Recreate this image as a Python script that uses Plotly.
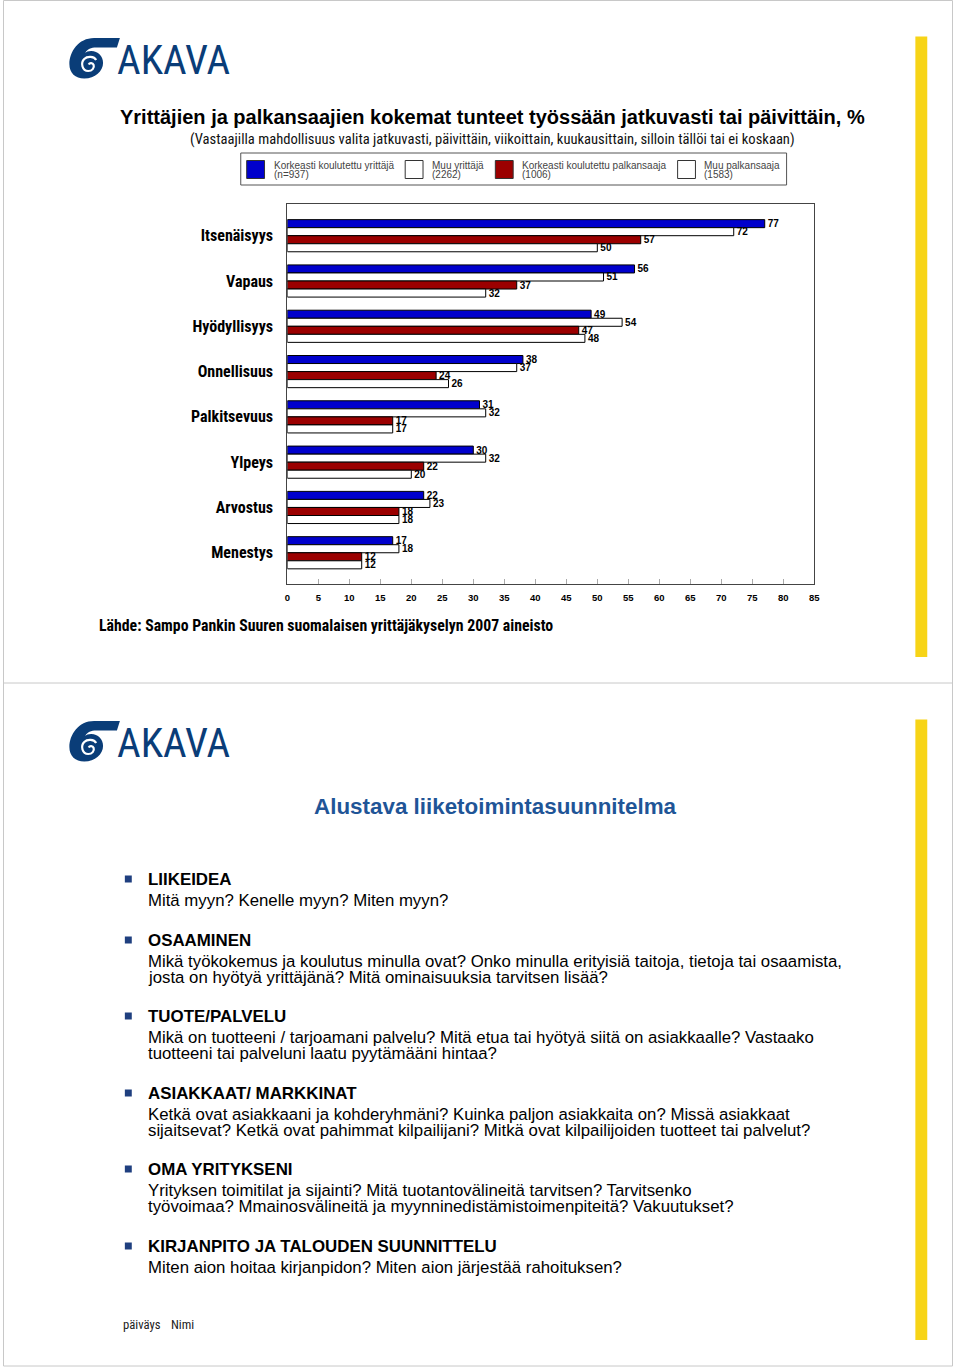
import plotly.graph_objects as go

W, H = 960, 1367

# ---------------- data ----------------
categories = ["Itsenäisyys", "Vapaus", "Hyödyllisyys", "Onnellisuus",
              "Palkitsevuus", "Ylpeys", "Arvostus", "Menestys"]
series_names = ["Korkeasti koulutettu yrittäjä", "Muu yrittäjä",
                "Korkeasti koulutettu palkansaaja", "Muu palkansaaja"]
series_n = ["(n=937)", "(2262)", "(1006)", "(1583)"]
kk_yrittaja = [77, 56, 49, 38, 31, 30, 22, 17]
muu_yrittaja = [72, 51, 54, 37, 32, 32, 23, 18]
kk_palkansaaja = [57, 37, 47, 24, 17, 22, 18, 12]
muu_palkansaaja = [50, 32, 48, 26, 17, 20, 18, 12]
series_values = [kk_yrittaja, muu_yrittaja, kk_palkansaaja, muu_palkansaaja]
series_colors = ["#0000CC", "#FFFFFF", "#9B0000", "#FFFFFF"]
x_ticks = list(range(0, 90, 5))

title1 = "Yrittäjien ja palkansaajien kokemat tunteet työssään jatkuvasti tai päivittäin, %"
subtitle1 = "(Vastaajilla mahdollisuus valita jatkuvasti, päivittäin, viikoittain, kuukausittain, silloin tällöi tai ei koskaan)"
source1 = "Lähde: Sampo Pankin Suuren suomalaisen yrittäjäkyselyn 2007 aineisto"

title2 = "Alustava liiketoimintasuunnitelma"
bullet_heads = ["LIIKEIDEA", "OSAAMINEN", "TUOTE/PALVELU", "ASIAKKAAT/ MARKKINAT",
                "OMA YRITYKSENI", "KIRJANPITO JA TALOUDEN SUUNNITTELU"]
bullet_bodies = [
    ["Mitä myyn? Kenelle myyn? Miten myyn?"],
    ["Mikä työkokemus ja koulutus minulla ovat? Onko minulla erityisiä taitoja, tietoja tai osaamista,",
     "josta on hyötyä yrittäjänä? Mitä ominaisuuksia tarvitsen lisää?"],
    ["Mikä on tuotteeni / tarjoamani palvelu? Mitä etua tai hyötyä siitä on asiakkaalle? Vastaako",
     "tuotteeni tai palveluni laatu pyytämääni hintaa?"],
    ["Ketkä ovat asiakkaani ja kohderyhmäni? Kuinka paljon asiakkaita on? Missä asiakkaat",
     "sijaitsevat? Ketkä ovat pahimmat kilpailijani? Mitkä ovat kilpailijoiden tuotteet tai palvelut?"],
    ["Yrityksen toimitilat ja sijainti? Mitä tuotantovälineitä tarvitsen? Tarvitsenko",
     "työvoimaa? Mmainosvälineitä ja myynninedistämistoimenpiteitä? Vakuutukset?"],
    ["Miten aion hoitaa kirjanpidon? Miten aion järjestää rahoituksen?"],
]
footer_items = ["päiväys", "Nimi"]

# ---------------- helpers ----------------
def X(px):
    return px / W

def Y(py):
    return 1 - py / H

NARROW = "Liberation Sans Narrow, Arial Narrow, Roboto Condensed, DejaVu Sans Condensed, sans-serif"
SANS = "Liberation Sans, Arial, sans-serif"
AKAVA_BLUE = "#0A3D78"
YELLOW = "#F7D417"

shapes = []
annotations = []

def rect(x0, y0, x1, y1, fill, line=None, lw=1):
    shapes.append(dict(type="rect", xref="paper", yref="paper",
                       x0=X(x0), x1=X(x1), y0=Y(y1), y1=Y(y0),
                       fillcolor=fill, line=dict(color=line or fill, width=lw if line else 0),
                       layer="above"))

def path(cmds, fill=None, line=None, lw=0):
    s = ""
    for c, pts in cmds:
        s += c + " " + " ".join(f"{X(a):.5f},{Y(b):.5f}" for a, b in pts) + " "
    if fill:
        s += "Z"
    shapes.append(dict(type="path", xref="paper", yref="paper", path=s.strip(),
                       fillcolor=fill if fill else "rgba(0,0,0,0)",
                       line=dict(color=line or "rgba(0,0,0,0)", width=lw),
                       layer="above"))

def text(x, y, t, size, color="#000", family=SANS, xanchor="left", bold=False):
    annotations.append(dict(xref="paper", yref="paper", x=X(x), y=Y(y), text=t,
                            showarrow=False, xanchor=xanchor, yanchor="middle",
                            xshift=-2 if xanchor == "left" else 0,
                            font=dict(size=size, color=color, family=family,
                                      weight="bold" if bold else "normal")))

def header(dy):
    # dark blue bar with slanted left end
    path([("M", [(118, 36.5 + dy)]), ("L", [(125, 23 + dy), (933, 23 + dy), (933, 36.5 + dy)])],
         fill=AKAVA_BLUE)
    # yellow vertical bar
    rect(921, 36.5 + dy, 933, 657 + dy, YELLOW)
    # logo swirl
    path([("M", [(118, 38 + dy)]), ("L", [(92, 38 + dy)]),
          ("C", [(76, 38 + dy), (67, 52 + dy), (67, 64 + dy)]),
          ("C", [(67, 73 + dy), (73, 78.5 + dy), (82, 78.5 + dy)]),
          ("C", [(93, 78.5 + dy), (101, 71 + dy), (101, 63 + dy)]),
          ("C", [(101, 56 + dy), (96, 51 + dy), (89, 51 + dy)]),
          ("C", [(86, 51 + dy), (84, 52 + dy), (83, 53 + dy)]),
          ("C", [(85, 49 + dy), (89, 47.5 + dy), (94, 47.5 + dy)]),
          ("L", [(115, 47.5 + dy)])], fill=AKAVA_BLUE)
    path([("M", [(94, 60 + dy)]),
          ("C", [(92, 56 + dy), (85, 56 + dy), (82, 59 + dy)]),
          ("C", [(78, 63 + dy), (80, 71 + dy), (86, 71 + dy)]),
          ("C", [(90, 71 + dy), (92.5, 68 + dy), (91.5, 65 + dy)]),
          ("C", [(90.5, 62.5 + dy), (87.5, 62.5 + dy), (86.5, 64.5 + dy)])],
         line="#FFFFFF", lw=2.2)
    text(115, 60 + dy, "AKAVA", 41, AKAVA_BLUE, NARROW)

# ---------------- slide frames ----------------
shapes.append(dict(type="rect", xref="paper", yref="paper", x0=X(0.5), x1=X(958.5),
                   y0=Y(1366), y1=Y(0.5), line=dict(color="#C8C8C8", width=1),
                   fillcolor="rgba(0,0,0,0)", layer="below"))
shapes.append(dict(type="line", xref="paper", yref="paper", x0=X(0), x1=X(959),
                   y0=Y(683), y1=Y(683), line=dict(color="#C8C8C8", width=1)))
header(0)
header(683)

# ---------------- slide 1 texts ----------------
text(494, 117, title1, 20, "#000", SANS, "center", bold=True)
text(494, 139, subtitle1, 14.6, "#111", NARROW, "center")
text(97, 625, source1, 15.8, "#000", NARROW, bold=True)

# legend
rect(240, 153, 791, 185, "#FFFFFF", "#555555", 1)
sw_x = [246, 406, 497, 681]
tx_x = [274, 433, 524, 708]
for i in range(4):
    rect(sw_x[i], 160.5, sw_x[i] + 18, 178.5, series_colors[i], "#333333", 1)
    text(tx_x[i], 165, series_names[i], 10, "#444", SANS)
    text(tx_x[i], 175, series_n[i], 10, "#444", SANS)

# ---------------- bar chart ----------------
fig = go.Figure()
for name, vals, col in zip(series_names, series_values, series_colors):
    fig.add_trace(go.Bar(
        y=categories, x=vals, name=name, orientation="h",
        marker=dict(color=col, line=dict(color="#000000", width=1)),
        text=[str(v) for v in vals], textposition="outside",
        textfont=dict(size=10, color="#000", family=SANS, weight="bold"),
        constraintext="none", cliponaxis=False, showlegend=False,
    ))

# ---------------- slide 2 ----------------
text(497, 806, title2, 22.4, "#1F5597", SANS, "center", bold=True)
head_y = [879, 940, 1016, 1093, 1169, 1246]
for hy, hd, body in zip(head_y, bullet_heads, bullet_bodies):
    rect(123, hy - 3.5, 130, hy + 3.5, "#1F3F7F")
    text(146, hy, hd, 16.9, "#000", SANS, bold=True)
    for j, line in enumerate(body):
        text(146, hy + 21 + j * 16.5, line, 16.8, "#000", SANS)

text(121, 1324, footer_items[0], 12.7, "#222", NARROW)
text(170, 1324, footer_items[1], 12.7, "#222", NARROW)

fig.update_layout(
    width=W, height=H, margin=dict(l=0, r=0, t=0, b=0),
    paper_bgcolor="#FFFFFF", plot_bgcolor="#FFFFFF",
    barmode="group", bargap=0.29, bargroupgap=0,
    shapes=shapes, annotations=annotations, showlegend=False,
    xaxis=dict(domain=[X(287), X(819)], range=[0, 85], tickvals=x_ticks,
               showgrid=False, zeroline=False, showline=True, linecolor="#444",
               linewidth=1, mirror=True, ticks="inside", ticklen=5,
               ticklabelstandoff=5,
               tickcolor="#AAAAAA", tickfont=dict(size=9.5, family=SANS, color="#000", weight="bold")),
    yaxis=dict(domain=[Y(584), Y(204)], range=[7.69, -0.7], type="category",
               showgrid=False, zeroline=False, showline=True, linecolor="#444",
               linewidth=1, mirror=True, ticks="", ticklabelstandoff=10,
               tickfont=dict(size=16, family=NARROW, color="#000", weight="bold")),
)

fig.write_html("out.html", config={"displayModeBar": False},
               post_script="document.documentElement.style.overflow='hidden';"
                           "document.body.style.margin='0';document.body.style.overflow='hidden';")
